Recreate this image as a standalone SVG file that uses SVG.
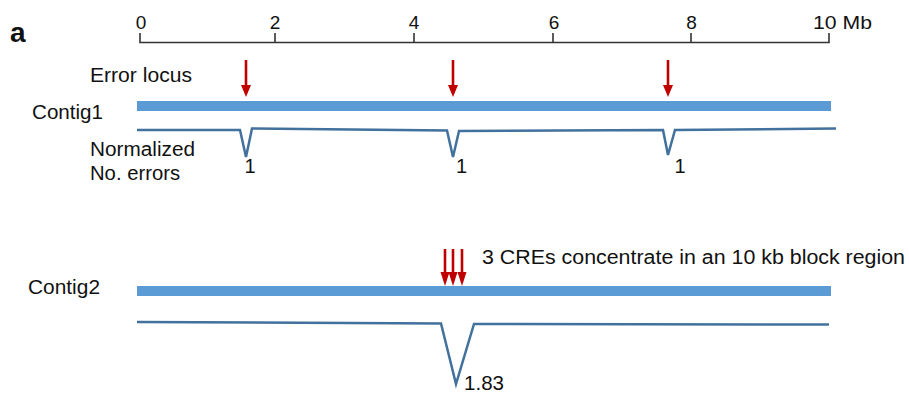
<svg xmlns="http://www.w3.org/2000/svg" width="909" height="395" viewBox="0 0 909 395">
<style>
text{font-family:"Liberation Sans",Arial,sans-serif;fill:#111;font-size:20px}
.tick{font-size:19px;text-anchor:middle}
.axis{stroke:#333;stroke-width:1.6;fill:none}
.bar{fill:#5B9BD5}
.err{stroke:#41719C;stroke-width:2.5;fill:none;stroke-linejoin:miter}
.shaft{stroke:#C00000;stroke-width:2.6}
.head{fill:#C00000}
</style>
<rect width="909" height="395" fill="#fff"/>
<g id="panel-label"><text x="10" y="42" style="font-size:28px;font-weight:bold">a</text></g>
<g id="axis">
<path class="axis" d="M140,33 V42.5 H829 V33 M275,33 V42.5 M414,33 V42.5 M553,33 V42.5 M691,33 V42.5"/>
<text class="tick" x="141" y="29">0</text>
<text class="tick" x="275" y="29">2</text>
<text class="tick" x="414" y="29">4</text>
<text class="tick" x="554" y="29">6</text>
<text class="tick" x="691.5" y="29">8</text>
<text x="813" y="29" style="font-size:19px" textLength="59" lengthAdjust="spacingAndGlyphs">10 Mb</text>
</g>
<g id="error-locus-label"><text x="90" y="82" textLength="102" lengthAdjust="spacingAndGlyphs">Error locus</text></g>
<g id="contig1">
<text x="32" y="118.5" textLength="71" lengthAdjust="spacingAndGlyphs">Contig1</text>
<rect class="bar" x="137" y="101" width="694" height="10"/>
</g>
<g id="contig1-errors">
<path class="err" d="M137,130 L240,130 L246,157 L252,128.5 L447,130.5 L453,157 L459,131 L663,130 L668,155 L675,130 L836,128.5"/>
<text x="90" y="156" textLength="105" lengthAdjust="spacingAndGlyphs">Normalized</text>
<text x="90" y="179.5" textLength="90" lengthAdjust="spacingAndGlyphs">No. errors</text>
<text x="244.5" y="172.5">1</text>
<text x="456" y="172.5">1</text>
<text x="674.5" y="172.5">1</text>
</g>
<g id="contig2">
<text x="28" y="293.5" textLength="72" lengthAdjust="spacingAndGlyphs">Contig2</text>
<rect class="bar" x="137" y="286" width="694" height="10"/>
</g>
<g id="contig2-errors">
<path class="err" d="M137,322 L441,323.5 L456,384 L474,324 L829,324.5"/>
<text x="464" y="390" textLength="40" lengthAdjust="spacingAndGlyphs">1.83</text>
</g>
<g id="cre-label"><text x="482" y="264" textLength="423" lengthAdjust="spacingAndGlyphs">3 CREs concentrate in an 10 kb block region</text></g>
<g id="connectors">
<line class="shaft" x1="246" y1="60" x2="246" y2="86"/><polygon class="head" points="241,85 251,85 246,97"/>
<line class="shaft" x1="453" y1="60" x2="453" y2="86"/><polygon class="head" points="448,85 458,85 453,97"/>
<line class="shaft" x1="668" y1="60" x2="668" y2="86"/><polygon class="head" points="663,85 673,85 668,97"/>
<line class="shaft" x1="445" y1="249" x2="445" y2="273"/><polygon class="head" points="440.5,272 449.5,272 445,286"/>
<line class="shaft" x1="453" y1="249" x2="453" y2="273"/><polygon class="head" points="448.5,272 457.5,272 453,286"/>
<line class="shaft" x1="462" y1="249" x2="462" y2="273"/><polygon class="head" points="457.5,272 466.5,272 462,286"/>
</g>
</svg>
